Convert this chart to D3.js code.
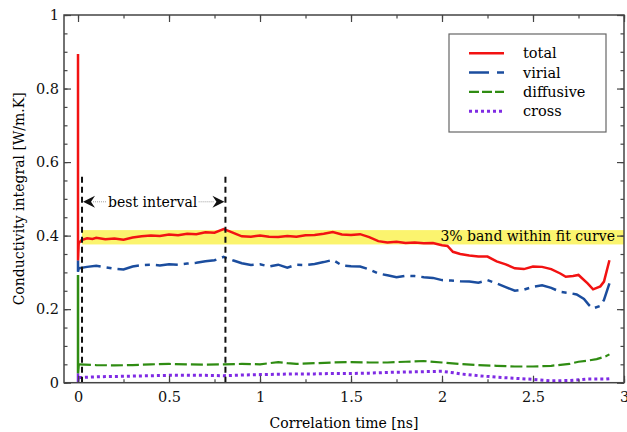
<!DOCTYPE html>
<html>
<head>
<meta charset="utf-8">
<script src="https://cdn.jsdelivr.net/npm/d3@7"></script>
<style>
  body { margin: 0; background: #fff; }
  svg { display: block; }
</style>
</head>
<body>
<svg id="chart"></svg>
<script>
const width = 627;
const height = 432;
const plotLeft = 64, plotRight = 624, plotTop = 15, plotBottom = 382.7;

// values, [time ns, W/m.K]
const totalData = [
  [0.005, 0.38], [0.02, 0.388], [0.05, 0.393], [0.08, 0.391], [0.1, 0.394], [0.15, 0.39],
  [0.2, 0.392], [0.25, 0.389], [0.3, 0.395], [0.35, 0.398], [0.4, 0.4], [0.45, 0.399],
  [0.5, 0.403], [0.55, 0.401], [0.6, 0.405], [0.65, 0.404], [0.7, 0.409], [0.75, 0.408],
  [0.8, 0.418], [0.83, 0.412], [0.87, 0.404], [0.9, 0.398], [0.95, 0.397], [1.0, 0.4],
  [1.05, 0.397], [1.1, 0.396], [1.15, 0.399], [1.2, 0.397], [1.25, 0.401], [1.3, 0.402],
  [1.35, 0.405], [1.4, 0.41], [1.45, 0.403], [1.5, 0.402], [1.55, 0.404], [1.6, 0.396],
  [1.65, 0.385], [1.7, 0.381], [1.75, 0.383], [1.8, 0.38], [1.85, 0.381], [1.9, 0.379],
  [1.95, 0.38], [2.0, 0.374], [2.03, 0.372], [2.06, 0.356], [2.1, 0.35], [2.15, 0.346],
  [2.2, 0.343], [2.25, 0.343], [2.3, 0.33], [2.35, 0.322], [2.4, 0.311], [2.45, 0.309],
  [2.5, 0.316], [2.55, 0.315], [2.6, 0.309], [2.65, 0.297], [2.68, 0.288], [2.72, 0.29],
  [2.75, 0.293], [2.8, 0.27], [2.83, 0.254], [2.87, 0.262], [2.89, 0.275], [2.92, 0.333]
];
const virialData = [
  [0.005, 0.311], [0.05, 0.315], [0.1, 0.318], [0.15, 0.314], [0.2, 0.31], [0.25, 0.308],
  [0.3, 0.316], [0.35, 0.32], [0.4, 0.321], [0.45, 0.319], [0.5, 0.322], [0.55, 0.321],
  [0.6, 0.324], [0.65, 0.326], [0.7, 0.33], [0.75, 0.333], [0.8, 0.342], [0.85, 0.333],
  [0.9, 0.325], [0.95, 0.32], [1.0, 0.322], [1.05, 0.316], [1.1, 0.321], [1.15, 0.313],
  [1.2, 0.321], [1.25, 0.32], [1.3, 0.323], [1.35, 0.328], [1.4, 0.334], [1.45, 0.319],
  [1.5, 0.317], [1.55, 0.316], [1.6, 0.308], [1.65, 0.297], [1.7, 0.292], [1.75, 0.287],
  [1.8, 0.291], [1.85, 0.29], [1.9, 0.287], [1.95, 0.285], [2.0, 0.279], [2.05, 0.278],
  [2.1, 0.276], [2.15, 0.275], [2.2, 0.272], [2.25, 0.279], [2.3, 0.27], [2.35, 0.26],
  [2.4, 0.25], [2.45, 0.253], [2.5, 0.261], [2.55, 0.265], [2.6, 0.258], [2.65, 0.247],
  [2.7, 0.244], [2.74, 0.24], [2.78, 0.228], [2.81, 0.21], [2.83, 0.202], [2.87, 0.209],
  [2.89, 0.225], [2.92, 0.27]
];
const diffusiveData = [
  [0.005, 0.05], [0.1, 0.048], [0.2, 0.047], [0.3, 0.048], [0.4, 0.05], [0.5, 0.051],
  [0.6, 0.05], [0.7, 0.049], [0.8, 0.05], [0.9, 0.051], [1.0, 0.05], [1.05, 0.053],
  [1.1, 0.056], [1.15, 0.053], [1.2, 0.051], [1.3, 0.053], [1.4, 0.055], [1.5, 0.056],
  [1.6, 0.055], [1.7, 0.055], [1.8, 0.057], [1.9, 0.059], [2.0, 0.055], [2.1, 0.051],
  [2.2, 0.048], [2.3, 0.046], [2.4, 0.044], [2.5, 0.044], [2.6, 0.046], [2.7, 0.051],
  [2.75, 0.057], [2.8, 0.06], [2.85, 0.064], [2.9, 0.072], [2.92, 0.077]
];
const crossData = [
  [0.005, 0.014], [0.1, 0.016], [0.2, 0.017], [0.3, 0.018], [0.4, 0.019], [0.5, 0.02],
  [0.6, 0.02], [0.7, 0.02], [0.8, 0.019], [0.9, 0.021], [1.0, 0.022], [1.1, 0.023],
  [1.2, 0.024], [1.3, 0.024], [1.4, 0.025], [1.5, 0.025], [1.6, 0.026], [1.7, 0.028],
  [1.8, 0.029], [1.9, 0.03], [2.0, 0.031], [2.05, 0.028], [2.1, 0.024], [2.2, 0.019],
  [2.3, 0.015], [2.4, 0.012], [2.5, 0.009], [2.6, 0.005], [2.7, 0.006], [2.75, 0.008],
  [2.8, 0.01], [2.9, 0.01], [2.92, 0.011]
];
// the fast oscillation at t = 0 shows as a solid vertical stroke: [min, max]
const totalSpike = [0.333, 0.894];
const virialSpike = [0.302, 0.333];
const diffusiveSpike = [0.026, 0.293];
const crossSpike = [0.0, 0.026];

const seriesNames = ["total", "virial", "diffusive", "cross"];
const bestInterval = [0.022, 0.81];
const fitBand = [0.376, 0.415];
const xTicks = [0, 0.5, 1, 1.5, 2, 2.5, 3];
const yTicks = [0, 0.2, 0.4, 0.6, 0.8, 1];

const serif = "DejaVu Serif";
const fs = 14;

const styles = {
  total:     { color: "#f21212", dash: null,         w: 2.5 },
  virial:    { color: "#1b4d9e", dash: "22,6,5,6",   w: 2.5 },
  diffusive: { color: "#2f8c12", dash: "12,4",       w: 2.2 },
  cross:     { color: "#7f2be4", dash: "3,3",        w: 3 }
};
const dataBy = { total: totalData, virial: virialData, diffusive: diffusiveData, cross: crossData };
const spikeBy = { total: totalSpike, virial: virialSpike, diffusive: diffusiveSpike, cross: crossSpike };

let svg = d3.select("#chart")
  .attr("width", width)
  .attr("height", height)
  .attr("font-family", serif);

let x = d3.scaleLinear().domain([-0.077, 3]).range([plotLeft, plotRight]);
let y = d3.scaleLinear().domain([0, 1]).range([plotBottom, plotTop]);

svg.append("defs").append("clipPath").attr("id", "plotclip")
  .append("rect").attr("x", plotLeft).attr("y", plotTop)
  .attr("width", plotRight - plotLeft).attr("height", plotBottom - plotTop);

// yellow 3% band
svg.append("rect")
  .attr("x", x(bestInterval[0]))
  .attr("y", y(fitBand[1]))
  .attr("width", x(3) - x(bestInterval[0]))
  .attr("height", y(fitBand[0]) - y(fitBand[1]))
  .attr("fill", "#fbf46e");

svg.append("text")
  .attr("x", x(3) - 9)
  .attr("y", y(fitBand[0]) - 3)
  .attr("text-anchor", "end")
  .attr("font-size", fs)
  .text("3% band within fit curve");

let plot = svg.append("g").attr("clip-path", "url(#plotclip)");
let line = d3.line().x(d => x(d[0])).y(d => y(d[1]));

// draw from bottom layer up so red is on top
["cross", "diffusive", "virial", "total"].forEach(name => {
  let s = styles[name];
  plot.append("path")
    .datum(dataBy[name])
    .attr("d", line)
    .attr("fill", "none")
    .attr("stroke", s.color)
    .attr("stroke-width", s.w)
    .attr("stroke-dasharray", s.dash);
  plot.append("line")
    .attr("x1", x(0)).attr("x2", x(0))
    .attr("y1", y(spikeBy[name][0])).attr("y2", y(spikeBy[name][1]))
    .attr("stroke", s.color)
    .attr("stroke-width", 2.5);
  plot.append("line")
    .attr("x1", x(0)).attr("x2", x(dataBy[name][0][0]))
    .attr("y1", y(spikeBy[name][0])).attr("y2", y(dataBy[name][0][1]))
    .attr("stroke", s.color)
    .attr("stroke-width", 2);
});

// best interval markers
bestInterval.forEach(t => {
  svg.append("line")
    .attr("x1", x(t)).attr("x2", x(t))
    .attr("y1", y(0)).attr("y2", y(0.57))
    .attr("stroke", "#111")
    .attr("stroke-width", 2)
    .attr("stroke-dasharray", "6,4");
});

const arrowY = y(0.492);
const labelX = x(0.41);
svg.append("text")
  .attr("x", labelX)
  .attr("y", arrowY + 5)
  .attr("text-anchor", "middle")
  .attr("font-size", fs)
  .text("best interval");

let x0 = x(bestInterval[0]) + 1, x1 = x(bestInterval[1]) - 1;
svg.append("line")
  .attr("x1", x0 + 10).attr("x2", labelX - 46)
  .attr("y1", arrowY).attr("y2", arrowY)
  .attr("stroke", "#888").attr("stroke-width", 0.8).attr("stroke-dasharray", "1,1");
svg.append("line")
  .attr("x1", labelX + 46).attr("x2", x1 - 10)
  .attr("y1", arrowY).attr("y2", arrowY)
  .attr("stroke", "#888").attr("stroke-width", 0.8).attr("stroke-dasharray", "1,1");
svg.append("path")
  .attr("d", `M${x0},${arrowY} L${x0 + 12},${arrowY - 6} L${x0 + 8},${arrowY} L${x0 + 12},${arrowY + 6} Z`)
  .attr("fill", "#111");
svg.append("path")
  .attr("d", `M${x1},${arrowY} L${x1 - 12},${arrowY - 6} L${x1 - 8},${arrowY} L${x1 - 12},${arrowY + 6} Z`)
  .attr("fill", "#111");

// axes, ticks pointing inward on all four sides
const fmt = d3.format("~g");
const xMinor = d3.range(0, 3.01, 0.25);
const yMinor = d3.range(0, 1.001, 0.05);

function styleAxis(g) {
  g.attr("font-family", serif).attr("font-size", 14.5);
  g.select(".domain").remove();
  g.selectAll("line").attr("stroke", "#444").attr("stroke-width", 1.2);
  g.selectAll("text").attr("fill", "#111");
}

svg.append("g").attr("transform", `translate(0,${plotBottom})`)
  .call(d3.axisBottom(x).tickValues(xMinor).tickSize(-3.5).tickFormat(""))
  .call(styleAxis);
svg.append("g").attr("transform", `translate(0,${plotBottom})`)
  .call(d3.axisBottom(x).tickValues(xTicks).tickSize(-7).tickPadding(9).tickFormat(fmt))
  .call(styleAxis);
svg.append("g").attr("transform", `translate(0,${plotTop})`)
  .call(d3.axisTop(x).tickValues(xMinor).tickSize(-3.5).tickFormat(""))
  .call(styleAxis);
svg.append("g").attr("transform", `translate(0,${plotTop})`)
  .call(d3.axisTop(x).tickValues(xTicks).tickSize(-7).tickFormat(""))
  .call(styleAxis);

svg.append("g").attr("transform", `translate(${plotLeft},0)`)
  .call(d3.axisLeft(y).tickValues(yMinor).tickSize(-3.5).tickFormat(""))
  .call(styleAxis);
svg.append("g").attr("transform", `translate(${plotLeft},0)`)
  .call(d3.axisLeft(y).tickValues(yTicks).tickSize(-7).tickPadding(5).tickFormat(fmt))
  .call(styleAxis);
svg.append("g").attr("transform", `translate(${plotRight},0)`)
  .call(d3.axisRight(y).tickValues(yMinor).tickSize(-3.5).tickFormat(""))
  .call(styleAxis);
svg.append("g").attr("transform", `translate(${plotRight},0)`)
  .call(d3.axisRight(y).tickValues(yTicks).tickSize(-7).tickFormat(""))
  .call(styleAxis);

svg.append("rect")
  .attr("x", plotLeft).attr("y", plotTop)
  .attr("width", plotRight - plotLeft).attr("height", plotBottom - plotTop)
  .attr("fill", "none").attr("stroke", "#444").attr("stroke-width", 1.5);

svg.append("text")
  .attr("x", (plotLeft + plotRight) / 2)
  .attr("y", 428)
  .attr("text-anchor", "middle")
  .attr("font-size", fs)
  .text("Correlation time [ns]");

svg.append("text")
  .attr("transform", `translate(24,${(plotTop + plotBottom) / 2}) rotate(-90)`)
  .attr("text-anchor", "middle")
  .attr("font-size", fs)
  .text("Conductivity integral [W/m.K]");

// legend
let legend = svg.append("g");
legend.append("rect")
  .attr("x", 449).attr("y", 34).attr("width", 157).attr("height", 98)
  .attr("fill", "#fff").attr("stroke", "#666").attr("stroke-width", 1.2);
seriesNames.forEach((name, i) => {
  let s = styles[name];
  let ly = 53.3 + i * 19.3;
  legend.append("line")
    .attr("x1", 469).attr("x2", 504)
    .attr("y1", ly).attr("y2", ly)
    .attr("stroke", s.color)
    .attr("stroke-width", s.w)
    .attr("stroke-dasharray", name === "virial" ? "20,8,7,8" : name === "diffusive" ? "10,3" : s.dash);
  legend.append("text")
    .attr("x", 523).attr("y", ly + 5)
    .attr("font-size", 14.5)
    .text(name);
});
</script>
</body>
</html>
